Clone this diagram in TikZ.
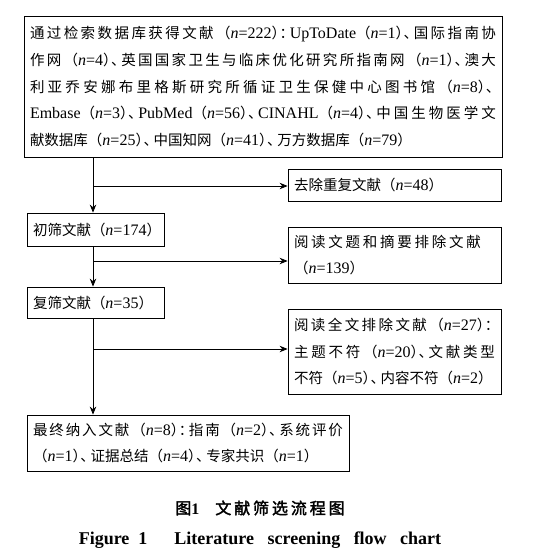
\documentclass[tikz,border=0pt]{standalone}
\usepackage{fontspec}
\setmainfont{Liberation Serif}
\newfontfamily\cjk{Noto Sans CJK SC}
\newfontfamily\capfont[LetterSpace=18,AutoFakeBold=2]{Noto Sans CJK SC}
\usetikzlibrary{arrows.meta}

\XeTeXlinebreaklocale "zh"
\XeTeXlinebreakskip=0pt plus 4pt

\newcommand\en[1]{{\rmfamily\fontsize{16}{26.7}\selectfont #1}}
\newcommand\nval[1]{（\en{\textit{n}=#1}）}
\newcommand\dun{\kern-0.45em\makebox[0.7em][l]{、}}
\newcommand\mh{\kern-0.45em\makebox[0.7em][l]{：}}

\tikzset{
  box/.style={draw, line width=0.8pt, rectangle, align=left, inner xsep=6pt,
    inner ysep=3pt, font=\fontsize{14.5}{26.7}\selectfont\cjk},
  jbox/.style={box, align=justify},
  flow/.style={line width=0.8pt, -{Stealth[length=8pt,width=6.5pt]}}
}

\begin{document}
\begin{tikzpicture}[x=1pt,y=-1pt]
  \useasboundingbox (0,0) rectangle (539,557);

  \node[jbox, text width=466pt, minimum height=141pt] (src) at (263,86.5)
    {通过检索数据库获得文献\nval{222}\mh\en{UpToDate}\nval{1}\dun 国际指南协\linebreak
     作网\nval{4}\dun 英国国家卫生与临床优化研究所指南网\nval{1}\dun 澳大\linebreak
     利亚乔安娜布里格斯研究所循证卫生保健中心图书馆\nval{8}\dun\linebreak
     \en{Embase}\nval{3}\dun\en{PubMed}\nval{56}\dun\en{CINAHL}\nval{4}\dun 中国生物医学文\linebreak
     献数据库\nval{25}\dun 中国知网\nval{41}\dun 万方数据库\nval{79}};
  \node[box, text width=201pt, minimum height=32pt] (dup) at (394.5,185)
    {\mbox{去除重复文献\nval{48}}};
  \node[box, text width=125pt, minimum height=33pt] (first) at (95.5,229.5)
    {\mbox{初筛文献\nval{174}}};
  \node[jbox, text width=201pt, minimum height=56pt] (ex1) at (394.5,255)
    {阅读文题和摘要排除文献\hspace*{14pt}\linebreak\nval{139}};
  \node[box, text width=125pt, minimum height=31pt] (second) at (95.5,302.5)
    {\mbox{复筛文献\nval{35}}};
  \node[jbox, text width=201pt, minimum height=85pt] (ex2) at (394.5,351.5)
    {阅读全文排除文献\nval{27}\mh\linebreak
     主题不符\nval{20}\dun 文献类型\linebreak
     不符\nval{5}\dun 内容不符\nval{2}};
  \node[jbox, text width=310pt, minimum height=56pt] (final) at (188,443)
    {最终纳入文献\nval{8}\mh 指南\nval{2}\dun 系统评价\linebreak
     \nval{1}\dun 证据总结\nval{4}\dun 专家共识\nval{1}};

  % branch points on the trunk
  \coordinate (t1) at (93,186);
  \coordinate (t2) at (93,261);
  \coordinate (t3) at (93,349);

  \draw[flow] (src.south -| t1) -- (first.north -| t1);
  \draw[flow] (t1) -- (t1 -| dup.west);
  \draw[flow] (first.south -| t2) -- (second.north -| t2);
  \draw[flow] (t2) -- (t2 -| ex1.west);
  \draw[flow] (second.south -| t3) -- (final.north -| t3);
  \draw[flow] (t3) -- (t3 -| ex2.west);

  % caption
  \node[font=\fontsize{16}{18}\selectfont\capfont\bfseries] (cap1) at (260,508)
    {图\en{\bfseries 1}\quad 文献筛选流程图};
  \node[font=\fontsize{18}{20}\selectfont\bfseries] (cap2) at (260,540)
    {Figure\ \ 1\quad\ \ Literature\ \ \ screening\ \ \ flow\ \ \ chart};
\end{tikzpicture}
\end{document}
